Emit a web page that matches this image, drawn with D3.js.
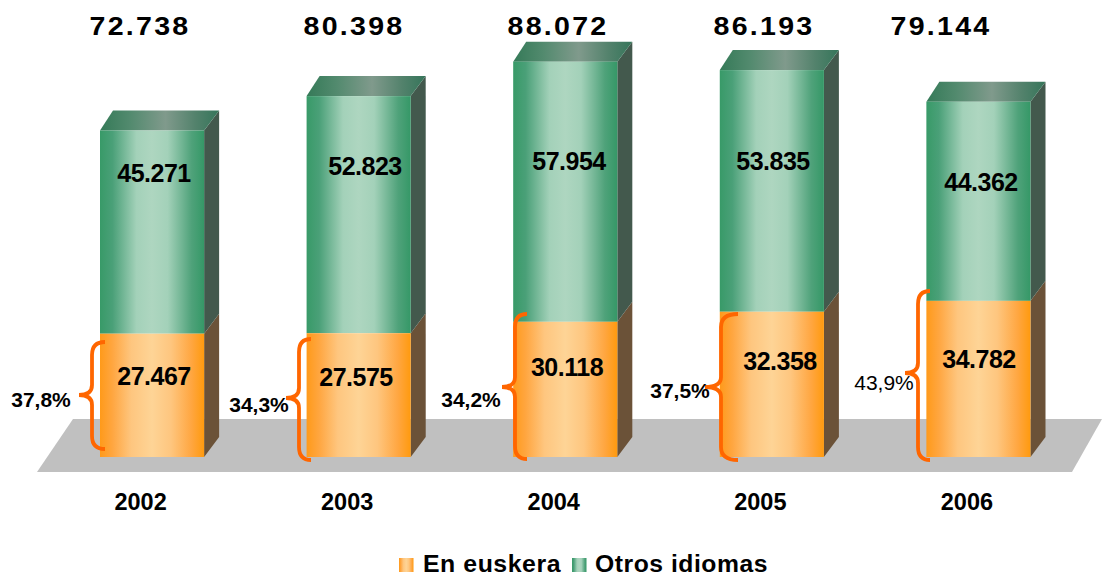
<!DOCTYPE html>
<html>
<head>
<meta charset="utf-8">
<script src="https://cdn.jsdelivr.net/npm/d3@7"></script>
<style>
body { margin: 0; background: white; }
text { font-family: "Liberation Sans", Arial, sans-serif; font-weight: bold; fill: #000; }
</style>
</head>
<body>
<div id="chart"></div>
<script>
const years = ["2002", "2003", "2004", "2005", "2006"];
const euskera = [27467, 27575, 30118, 32358, 34782];
const otros = [45271, 52823, 57954, 53835, 44362];
const totals = ["72.738", "80.398", "88.072", "86.193", "79.144"];
const euskeraLabels = ["27.467", "27.575", "30.118", "32.358", "34.782"];
const otrosLabels = ["45.271", "52.823", "57.954", "53.835", "44.362"];
const percents = ["37,8%", "34,3%", "34,2%", "37,5%", "43,9%"];

// hand placed annotations, these do not follow the bars in the original
const totalX = [140, 354, 558, 764, 941];
const otrosLabelPos = [[154, 182], [365, 175], [569, 170], [773, 170], [981, 191]];
const euskeraLabelPos = [[154, 385], [356, 386], [567, 376], [780, 370], [979, 368]];
const percentPos = [[41, 407], [259, 412], [471, 407], [680, 398], [884, 390]];
const braces = [
    {top: 342, bottom: 449, spine: 92, arm: 105, tipX: 79, tipY: 395},
    {top: 339, bottom: 460, spine: 299, arm: 311, tipX: 286, tipY: 398},
    {top: 314, bottom: 459, spine: 515, arm: 527, tipX: 502, tipY: 387},
    {top: 314, bottom: 460, spine: 721, arm: 738, tipX: 705, tipY: 387},
    {top: 291, bottom: 460, spine: 918, arm: 930, tipX: 905, tipY: 373}
];

const width = 1102, height = 577;
const depthX = 15, depthY = 20;

let svg = d3.select("#chart").append("svg")
    .attr("width", width)
    .attr("height", height)
    .style("display", "block");

function addGradient(id, stops) {
    let grad = svg.append("defs").append("linearGradient").attr("id", id);
    stops.forEach(s => grad.append("stop").attr("offset", s[0]).attr("stop-color", s[1]));
}
addGradient("orangeFront", [[0, "#ff9a1a"], [0.12, "#ffa640"], [0.3, "#fec67f"], [0.5, "#fed496"], [0.68, "#fec67f"], [0.88, "#ffa640"], [1, "#ff9a0e"]]);
addGradient("greenFront", [[0, "#389a68"], [0.12, "#4aa078"], [0.35, "#a3d1b9"], [0.5, "#aed6c0"], [0.65, "#a3d1b9"], [0.88, "#4fa27a"], [1, "#359867"]]);
addGradient("greenTop", [[0, "#357a58"], [0.25, "#528a6e"], [0.55, "#809a8c"], [0.8, "#53826c"], [1, "#35755a"]]);

let xScale = d3.scaleBand().domain(years).range([100, 1030.5]).paddingInner(0.496).paddingOuter(0);
let yScale = d3.scaleLinear().domain([0, 90000]).range([457, 53]);
let barW = xScale.bandwidth();

// floor
let floor = d3.path();
floor.moveTo(37, 472);
floor.lineTo(1072, 472);
floor.lineTo(1102, 419);
floor.lineTo(73, 419);
floor.closePath();
svg.append("path").attr("d", floor.toString()).attr("fill", "#c0c0c0");

function quad(x, y, h) {
    // side face of a box, front edge at x going from y to y+h
    return `M${x},${y}L${x + depthX},${y - depthY}L${x + depthX},${y + h - depthY}L${x},${y + h}Z`;
}

let bars = svg.selectAll(".bar").data(years).enter().append("g").attr("class", "bar");

// side faces, top, then the two fronts
bars.append("path")
    .attr("d", (d, i) => quad(xScale(d) + barW, yScale(euskera[i]), yScale(0) - yScale(euskera[i])))
    .attr("fill", "#6b5238");
bars.append("path")
    .attr("d", (d, i) => quad(xScale(d) + barW, yScale(euskera[i] + otros[i]), yScale(euskera[i]) - yScale(euskera[i] + otros[i])))
    .attr("fill", "#43594d");
bars.append("path")
    .attr("d", (d, i) => {
        let x = xScale(d), y = yScale(euskera[i] + otros[i]);
        return `M${x},${y}L${x + depthX - 2},${y - depthY}L${x + barW + depthX},${y - depthY}L${x + barW},${y}Z`;
    })
    .attr("fill", "url(#greenTop)");
bars.append("rect")
    .attr("x", d => xScale(d))
    .attr("width", barW)
    .attr("y", (d, i) => yScale(euskera[i] + otros[i]))
    .attr("height", (d, i) => yScale(euskera[i]) - yScale(euskera[i] + otros[i]))
    .attr("fill", "url(#greenFront)");
bars.append("rect")
    .attr("x", d => xScale(d))
    .attr("width", barW)
    .attr("y", (d, i) => yScale(euskera[i]))
    .attr("height", (d, i) => yScale(0) - yScale(euskera[i]))
    .attr("fill", "url(#orangeFront)");

// braces
svg.selectAll(".brace").data(braces).enter().append("path")
    .attr("class", "brace")
    .attr("fill", "none")
    .attr("stroke", "#ff6600")
    .attr("stroke-width", 3.8)
    .attr("d", b => {
        let r = 13;
        return `M${b.arm},${b.top}Q${b.spine},${b.top} ${b.spine},${b.top + r}`
            + `L${b.spine},${b.tipY - 10}Q${b.spine},${b.tipY} ${b.tipX},${b.tipY}`
            + `Q${b.spine},${b.tipY} ${b.spine},${b.tipY + 10}`
            + `L${b.spine},${b.bottom - r}Q${b.spine},${b.bottom} ${b.arm},${b.bottom}`;
    });

// total labels, stretched and spaced like in the original
svg.selectAll(".total").data(totals).enter().append("text")
    .attr("class", "total")
    .attr("x", (d, i) => totalX[i])
    .attr("y", 35)
    .attr("text-anchor", "middle")
    .attr("textLength", 101)
    .attr("lengthAdjust", "spacingAndGlyphs")
    .style("font-size", "25px")
    .style("letter-spacing", "2px")
    .text(d => d);

svg.selectAll(".otrosLabel").data(otrosLabels).enter().append("text")
    .attr("class", "otrosLabel")
    .attr("x", (d, i) => otrosLabelPos[i][0])
    .attr("y", (d, i) => otrosLabelPos[i][1])
    .attr("text-anchor", "middle")
    .style("font-size", "25px")
    .style("letter-spacing", "-0.5px")
    .text(d => d);

svg.selectAll(".euskeraLabel").data(euskeraLabels).enter().append("text")
    .attr("class", "euskeraLabel")
    .attr("x", (d, i) => euskeraLabelPos[i][0])
    .attr("y", (d, i) => euskeraLabelPos[i][1])
    .attr("text-anchor", "middle")
    .style("font-size", "25px")
    .style("letter-spacing", "-0.5px")
    .text(d => d);

svg.selectAll(".percent").data(percents).enter().append("text")
    .attr("class", "percent")
    .attr("x", (d, i) => percentPos[i][0])
    .attr("y", (d, i) => percentPos[i][1])
    .attr("text-anchor", "middle")
    .style("font-size", "21px")
    .style("font-weight", (d, i) => i == 4 ? "normal" : "bold")
    .text(d => d);

// x axis, labels only, they sit a bit left of the bar centres
let axis = svg.append("g")
    .attr("transform", "translate(-11.5,457)")
    .call(d3.axisBottom(xScale).tickSize(0).tickPadding(36));
axis.select(".domain").remove();
axis.selectAll("text")
    .style("font-size", "23.5px")
    .style("font-family", "\"Liberation Sans\", Arial, sans-serif")
    .style("font-weight", "bold")
    .attr("fill", "#000");

// legend
let legendEntries = [["En euskera", "url(#orangeFront)", 399, 423, 138], ["Otros idiomas", "url(#greenFront)", 572, 595, 173]];
let legend = svg.selectAll(".legend").data(legendEntries).enter().append("g").attr("class", "legend");
legend.append("rect")
    .attr("x", d => d[2])
    .attr("y", 558)
    .attr("width", 14.5)
    .attr("height", 14)
    .attr("fill", d => d[1]);
legend.append("text")
    .attr("x", d => d[3])
    .attr("y", 572)
    .attr("textLength", d => d[4])
    .attr("lengthAdjust", "spacingAndGlyphs")
    .style("font-size", "23px")
    .style("letter-spacing", "0.5px")
    .text(d => d[0]);
</script>
</body>
</html>
